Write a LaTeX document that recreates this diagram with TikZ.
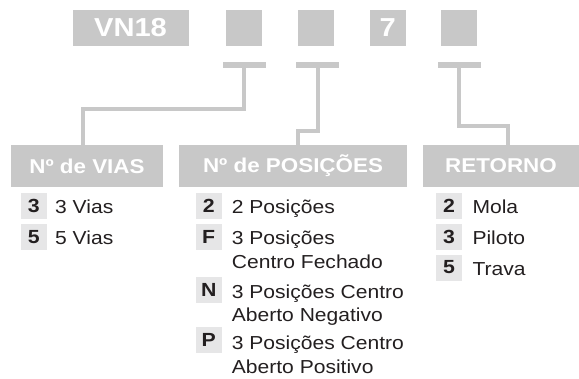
\documentclass[tikz,border=0pt]{standalone}
\usepackage{fontspec}
\setmainfont[FakeStretch=1.12]{Liberation Sans}
\definecolor{boxgray}{HTML}{C8C8C8}
\definecolor{keygray}{HTML}{E6E6E7}
\definecolor{inkc}{HTML}{231F20}
\begin{document}
\begin{tikzpicture}[x=1pt,y=-1pt,
  topbox/.style={fill=boxgray, minimum width=36pt, minimum height=36pt, inner sep=0pt,
    font=\bfseries\fontsize{26}{26}\selectfont, text=white},
  tbar/.style={fill=boxgray, minimum width=43pt, minimum height=6pt, inner sep=0pt},
  head/.style={fill=boxgray, minimum height=42pt, inner sep=0pt,
    font=\bfseries\fontsize{20}{20}\selectfont, text=white},
  stem/.style={draw=boxgray, line width=4pt},
  keybox/.style={fill=keygray, minimum width=26pt, minimum height=26pt, inner sep=0pt,
    font=\bfseries\fontsize{19}{19}\selectfont, text=inkc},
  item/.style={anchor=base west, inner sep=0pt, font=\fontsize{18.8}{18.8}\selectfont, text=inkc}]
\useasboundingbox (0,0) rectangle (579,378);
% top row
\node[topbox, minimum width=116pt] (vn) at (130.5,28) {VN18};
\node[topbox] (b1) at (244,28) {};
\node[topbox] (b2) at (316,28) {};
\node[topbox] (b3) at (387.7,28) {7};
\node[topbox] (b4) at (459,28) {};
% headers
\node[head, minimum width=152pt] (h1) at (87,166) {Nº de VIAS};
\node[head, minimum width=228pt] (h2) at (293,166) {Nº de POSIÇÕES};
\node[head, minimum width=156pt] (h3) at (501,166) {RETORNO};
% junctions
\coordinate (j1) at (83,109);
\coordinate (j2) at (298,130.5);
\coordinate (j3) at (507.5,125.5);
% bar positions
\coordinate (c1) at (244,65.3);
\coordinate (c2) at (317.5,65.3);
\coordinate (c3) at (459,65.3);
\draw[stem] (c1) -- (c1 |- j1) -- (j1) -- (j1 |- h1.north);
\draw[stem] (c2) -- (c2 |- j2) -- (j2) -- (j2 |- h2.north);
\draw[stem] (c3) -- (c3 |- j3) -- (j3) -- (j3 |- h3.north);
\node[tbar] (bar1) at (c1) {};
\node[tbar] (bar2) at (c2) {};
\node[tbar] (bar3) at (c3) {};
% column 1
\node[keybox] (k11) at (33.7,205.5) {3};
\node[item] (t11) at (55,213.3) {3 Vias};
\node[keybox] (k12) at (33.7,236.7) {5};
\node[item] (t12) at (55,244.5) {5 Vias};
% column 2
\node[keybox] (k21) at (208.7,205.5) {2};
\node[item] (t21) at (231.7,213.3) {2 Posições};
\node[keybox] (k22) at (208.7,236.7) {F};
\node[item] (t22) at (231.7,244.5) {3 Posições};
\node[item] (t22b) at (231.7,268) {Centro Fechado};
\node[keybox] (k23) at (208.7,290) {N};
\node[item] (t23) at (231.7,298) {3 Posições Centro};
\node[item] (t23b) at (231.7,321.5) {Aberto Negativo};
\node[keybox] (k24) at (208.7,340) {P};
\node[item] (t24) at (231.7,349.8) {3 Posições Centro};
\node[item] (t24b) at (231.7,373.3) {Aberto Positivo};
% column 3
\node[keybox] (k31) at (449,205.5) {2};
\node[item] (t31) at (472.3,213.3) {Mola};
\node[keybox] (k32) at (449,236.7) {3};
\node[item] (t32) at (472.3,244.5) {Piloto};
\node[keybox] (k33) at (449,267.5) {5};
\node[item] (t33) at (472.3,275.3) {Trava};
\end{tikzpicture}
\end{document}
